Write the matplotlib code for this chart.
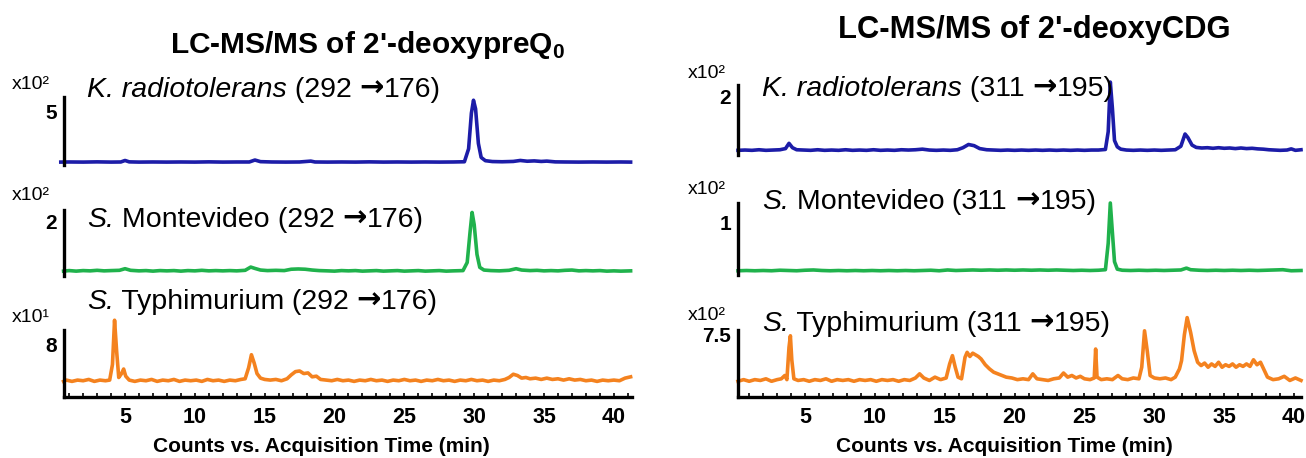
import matplotlib
matplotlib.use("Agg")
import matplotlib.pyplot as plt
from matplotlib.ticker import MultipleLocator
from matplotlib.offsetbox import TextArea, HPacker, AnnotationBbox

plt.rcParams['font.family'] = ['Liberation Sans', 'DejaVu Sans']
plt.rcParams['mathtext.fontset'] = 'custom'
plt.rcParams['mathtext.rm'] = 'Liberation Sans'
plt.rcParams['mathtext.bf'] = 'Liberation Sans:bold'

BLUE = "#1c1ca8"
GREEN = "#20b24c"
ORANGE = "#f4821f"

# ---- data: (time min, intensity) ----
# 2'-deoxypreQ0, K. radiotolerans (x10^2)
kr_preq = [(0.4, 0.27), (1, 0.28), (2, 0.27), (3, 0.29), (4, 0.27), (4.7, 0.28), (5.0, 0.42), (5.3, 0.29),
           (6, 0.27), (7, 0.28), (8, 0.27), (9, 0.28), (10, 0.27), (11, 0.29), (12, 0.27), (13, 0.28),
           (13.9, 0.28), (14.3, 0.46), (14.7, 0.31), (15.5, 0.28), (16.5, 0.27), (17.5, 0.28), (18.3, 0.36),
           (18.6, 0.28), (19.5, 0.27), (20.5, 0.28), (21.5, 0.27), (22.5, 0.29), (23.5, 0.27), (24.5, 0.28),
           (25.5, 0.27), (26.5, 0.28), (27.5, 0.27), (28.5, 0.28), (29.3, 0.3), (29.6, 1.5), (29.8, 4.8),
           (29.95, 6.0), (30.1, 5.2), (30.3, 2.0), (30.5, 0.7), (30.8, 0.4), (31.3, 0.32), (32, 0.3),
           (32.8, 0.33), (33.3, 0.42), (33.8, 0.35), (34.3, 0.38), (34.8, 0.33), (35.2, 0.36), (35.8, 0.29),
           (36.5, 0.28), (37.5, 0.27), (38.5, 0.28), (39.5, 0.27), (40.5, 0.28), (41.2, 0.27)]
# 2'-deoxypreQ0, S. Montevideo (x10^2)
sm_preq = [(0.6, 0.18), (1, 0.2), (1.5, 0.18), (2, 0.2), (2.5, 0.19), (3, 0.21), (3.5, 0.19), (4, 0.2),
           (4.6, 0.21), (5.0, 0.27), (5.4, 0.21), (6, 0.19), (6.5, 0.2), (7, 0.18), (7.5, 0.2), (8, 0.19),
           (8.5, 0.2), (9, 0.18), (9.5, 0.2), (10, 0.19), (10.5, 0.21), (11, 0.19), (11.5, 0.2), (12, 0.19),
           (12.5, 0.2), (13, 0.19), (13.6, 0.21), (14.0, 0.33), (14.3, 0.28), (14.7, 0.22), (15.2, 0.2),
           (15.8, 0.21), (16.4, 0.2), (16.9, 0.25), (17.4, 0.26), (17.9, 0.25), (18.4, 0.22), (18.9, 0.2),
           (19.5, 0.19), (20, 0.18), (20.5, 0.2), (21, 0.19), (21.5, 0.2), (22, 0.18), (22.5, 0.19),
           (23, 0.2), (23.5, 0.18), (24, 0.19), (24.5, 0.2), (25, 0.18), (25.5, 0.19), (26, 0.2), (26.5, 0.18),
           (27, 0.19), (27.5, 0.2), (28, 0.18), (28.5, 0.19), (29.2, 0.2), (29.5, 0.5), (29.7, 1.6),
           (29.85, 2.35), (30.0, 1.9), (30.2, 0.8), (30.4, 0.32), (30.7, 0.22), (31.2, 0.2), (31.8, 0.19),
           (32.5, 0.21), (33.0, 0.27), (33.4, 0.22), (34, 0.2), (34.5, 0.21), (35, 0.19), (35.5, 0.2),
           (36, 0.19), (36.5, 0.21), (37, 0.22), (37.5, 0.19), (38, 0.2), (38.5, 0.19), (39, 0.2),
           (39.5, 0.18), (40, 0.19), (40.5, 0.18), (41.2, 0.19)]
# 2'-deoxypreQ0, S. Typhimurium (x10^1)
st_preq = [(0.6, 2.4), (0.8, 2.6), (1.2, 2.4), (1.6, 2.6), (2.0, 2.5), (2.4, 2.7), (2.8, 2.4), (3.2, 2.6),
           (3.6, 2.5), (3.9, 2.6), (4.1, 5.0), (4.25, 11.8), (4.4, 7.0), (4.55, 3.0), (4.75, 3.6), (4.9, 4.3),
           (5.05, 3.2), (5.3, 2.6), (5.7, 2.4), (6.1, 2.6), (6.5, 2.5), (6.9, 2.7), (7.3, 2.4), (7.7, 2.6),
           (8.1, 2.5), (8.5, 2.7), (8.9, 2.4), (9.3, 2.6), (9.7, 2.5), (10.1, 2.6), (10.5, 2.4), (10.9, 2.7),
           (11.3, 2.5), (11.7, 2.6), (12.1, 2.4), (12.5, 2.6), (12.9, 2.5), (13.3, 2.7), (13.6, 2.8),
           (13.85, 4.5), (14.05, 6.5), (14.25, 5.2), (14.45, 3.6), (14.7, 2.9), (15.0, 2.7), (15.4, 2.6),
           (15.8, 2.7), (16.2, 2.5), (16.6, 2.8), (16.9, 3.4), (17.2, 3.9), (17.5, 4.0), (17.8, 3.6),
           (18.1, 3.7), (18.4, 3.1), (18.7, 3.2), (19.0, 2.7), (19.4, 2.6), (19.8, 2.5), (20.2, 2.7),
           (20.6, 2.5), (21.0, 2.6), (21.4, 2.4), (21.8, 2.6), (22.2, 2.5), (22.6, 2.7), (23.0, 2.5),
           (23.4, 2.6), (23.8, 2.4), (24.2, 2.6), (24.6, 2.5), (25.0, 2.7), (25.4, 2.5), (25.8, 2.6),
           (26.2, 2.4), (26.6, 2.6), (27.0, 2.5), (27.4, 2.7), (27.8, 2.5), (28.2, 2.6), (28.6, 2.4),
           (29.0, 2.6), (29.4, 2.5), (29.8, 2.7), (30.2, 2.5), (30.6, 2.6), (31.0, 2.4), (31.4, 2.6),
           (31.8, 2.5), (32.2, 2.7), (32.5, 3.0), (32.8, 3.5), (33.1, 3.3), (33.4, 2.9), (33.7, 3.0),
           (34.0, 2.8), (34.4, 2.9), (34.8, 2.7), (35.2, 2.9), (35.6, 2.7), (36.0, 2.8), (36.4, 2.6),
           (36.8, 2.8), (37.2, 2.6), (37.6, 2.7), (38.0, 2.5), (38.4, 2.6), (38.8, 2.4), (39.2, 2.6),
           (39.6, 2.5), (40.0, 2.6), (40.4, 2.5), (40.8, 2.9), (41.2, 3.1)]

# 2'-deoxyCDG, K. radiotolerans (x10^2)
kr_cdg = [(0.2, 0.16), (0.7, 0.17), (1.2, 0.16), (1.7, 0.18), (2.2, 0.16), (2.7, 0.17), (3.2, 0.18),
          (3.6, 0.22), (3.85, 0.4), (4.1, 0.25), (4.4, 0.18), (4.9, 0.17), (5.4, 0.16), (5.9, 0.18),
          (6.4, 0.16), (6.9, 0.17), (7.4, 0.16), (7.9, 0.18), (8.4, 0.16), (8.9, 0.17), (9.4, 0.16),
          (9.9, 0.18), (10.4, 0.16), (10.9, 0.17), (11.4, 0.16), (11.9, 0.18), (12.4, 0.17), (12.9, 0.18),
          (13.4, 0.2), (13.9, 0.17), (14.4, 0.16), (14.9, 0.17), (15.4, 0.16), (15.9, 0.18), (16.3, 0.25),
          (16.7, 0.36), (17.1, 0.32), (17.5, 0.22), (18.0, 0.18), (18.5, 0.17), (19.0, 0.16), (19.5, 0.17),
          (20.0, 0.16), (20.5, 0.17), (21.0, 0.16), (21.5, 0.17), (22.0, 0.16), (22.5, 0.17), (23.0, 0.16),
          (23.5, 0.17), (24.0, 0.16), (24.5, 0.17), (25.0, 0.16), (25.5, 0.17), (26.0, 0.17), (26.5, 0.19),
          (26.7, 0.8), (26.85, 2.5), (27.0, 1.6), (27.15, 0.5), (27.35, 0.28), (27.6, 0.2), (28.0, 0.17),
          (28.5, 0.16), (29.0, 0.17), (29.5, 0.16), (30.0, 0.17), (30.5, 0.16), (31.0, 0.17), (31.5, 0.18),
          (31.9, 0.3), (32.2, 0.72), (32.4, 0.6), (32.7, 0.34), (33.0, 0.26), (33.4, 0.24), (33.8, 0.25),
          (34.2, 0.23), (34.6, 0.25), (35.0, 0.23), (35.4, 0.24), (35.8, 0.22), (36.2, 0.24), (36.6, 0.22),
          (37.0, 0.23), (37.4, 0.21), (37.8, 0.2), (38.2, 0.18), (38.6, 0.17), (39.0, 0.16), (39.5, 0.17),
          (39.8, 0.21), (40.1, 0.16), (40.5, 0.18)]
# 2'-deoxyCDG, S. Montevideo (x10^2)
sm_cdg = [(0.2, 0.08), (0.8, 0.085), (1.4, 0.08), (2.0, 0.085), (2.6, 0.08), (3.2, 0.09), (3.8, 0.085),
          (4.4, 0.08), (5.0, 0.09), (5.6, 0.095), (6.2, 0.085), (6.8, 0.08), (7.4, 0.085), (8.0, 0.08),
          (8.6, 0.085), (9.2, 0.08), (9.8, 0.085), (10.4, 0.08), (11.0, 0.085), (11.6, 0.08), (12.2, 0.085),
          (12.8, 0.08), (13.4, 0.085), (14.0, 0.09), (14.6, 0.08), (15.2, 0.095), (15.8, 0.085),
          (16.4, 0.09), (17.0, 0.095), (17.6, 0.09), (18.2, 0.095), (18.8, 0.09), (19.4, 0.095),
          (20.0, 0.09), (20.6, 0.095), (21.2, 0.09), (21.8, 0.095), (22.4, 0.09), (23.0, 0.095),
          (23.6, 0.09), (24.2, 0.085), (24.8, 0.09), (25.4, 0.085), (26.0, 0.09), (26.5, 0.1),
          (26.7, 0.6), (26.85, 1.36), (27.0, 0.8), (27.15, 0.25), (27.35, 0.11), (27.7, 0.09),
          (28.3, 0.085), (28.9, 0.09), (29.5, 0.085), (30.1, 0.09), (30.7, 0.085), (31.3, 0.09),
          (31.9, 0.095), (32.3, 0.13), (32.6, 0.1), (33.2, 0.09), (33.8, 0.085), (34.4, 0.09),
          (35.0, 0.085), (35.6, 0.09), (36.2, 0.085), (36.8, 0.09), (37.4, 0.085), (38.0, 0.09),
          (38.6, 0.095), (39.2, 0.1), (39.8, 0.08), (40.5, 0.085)]
# 2'-deoxyCDG, S. Typhimurium (x10^2)
st_cdg = [(0.2, 1.9), (0.6, 2.1), (1.0, 1.9), (1.4, 2.1), (1.8, 2.0), (2.2, 2.2), (2.6, 1.9), (3.0, 2.1),
          (3.3, 2.2), (3.55, 2.6), (3.7, 2.1), (3.85, 6.0), (3.95, 7.4), (4.05, 4.5), (4.2, 2.2), (4.5, 2.0),
          (4.9, 2.1), (5.3, 1.9), (5.7, 2.1), (6.1, 2.0), (6.5, 2.2), (6.9, 1.9), (7.3, 2.1), (7.7, 2.0),
          (8.1, 2.1), (8.5, 1.9), (8.9, 2.1), (9.3, 2.0), (9.7, 2.1), (10.1, 1.9), (10.5, 2.1), (10.9, 2.0),
          (11.3, 2.1), (11.7, 1.9), (12.1, 2.1), (12.5, 2.0), (12.9, 2.3), (13.2, 2.8), (13.5, 2.3),
          (13.9, 2.0), (14.3, 2.4), (14.7, 2.1), (15.1, 2.3), (15.35, 4.0), (15.55, 5.0), (15.75, 3.6),
          (15.95, 2.4), (16.2, 2.2), (16.45, 4.8), (16.6, 5.4), (16.8, 4.9), (17.0, 5.3), (17.2, 5.1),
          (17.4, 4.9), (17.6, 4.6), (17.9, 3.9), (18.2, 3.4), (18.5, 3.0), (18.8, 2.8), (19.1, 2.6),
          (19.4, 2.4), (19.8, 2.3), (20.2, 2.1), (20.6, 2.2), (21.0, 2.1), (21.3, 2.8), (21.6, 2.2),
          (22.0, 2.1), (22.4, 2.0), (22.8, 2.2), (23.2, 2.3), (23.5, 2.9), (23.8, 2.4), (24.1, 2.6),
          (24.4, 2.3), (24.7, 2.5), (25.0, 2.2), (25.4, 2.1), (25.7, 2.3), (25.8, 5.8), (25.9, 2.4),
          (26.2, 2.1), (26.6, 2.2), (27.0, 2.1), (27.4, 2.6), (27.7, 2.2), (28.1, 2.1), (28.5, 2.3),
          (28.9, 2.2), (29.1, 3.6), (29.3, 8.0), (29.5, 5.5), (29.7, 2.6), (30.0, 2.3), (30.4, 2.2),
          (30.8, 2.3), (31.2, 2.1), (31.5, 2.4), (31.8, 3.4), (31.95, 4.4), (32.15, 7.5), (32.35, 9.6),
          (32.6, 7.8), (32.85, 5.6), (33.1, 4.2), (33.35, 3.8), (33.6, 4.1), (33.85, 3.6), (34.1, 4.0),
          (34.35, 3.7), (34.6, 4.2), (34.85, 3.6), (35.1, 3.9), (35.35, 3.7), (35.6, 4.0), (35.85, 3.6),
          (36.1, 3.9), (36.35, 3.7), (36.6, 4.0), (36.85, 3.7), (37.1, 4.5), (37.35, 3.9), (37.6, 4.2),
          (37.85, 3.3), (38.1, 2.4), (38.5, 2.1), (38.9, 2.2), (39.3, 2.5), (39.7, 2.0), (40.1, 2.3),
          (40.5, 2.0)]

# label pieces: (italic part, upright part)
left_species = [("K. radiotolerans", ""), ("S.", " Montevideo"), ("S.", " Typhimurium")]
right_species = [("K. radiotolerans", ""), ("S.", " Montevideo"), ("S.", " Typhimurium")]
left_mrm = ("292", "176")
right_mrm = ("311", "195")
left_scale = ["x10\u00b2", "x10\u00b2", "x10\u00b9"]
right_scale = ["x10\u00b2", "x10\u00b2", "x10\u00b2"]
left_ticks = [5, 2, 8]
right_ticks = [2, 1, 7.5]
left_tick_labels = ["5", "2", "8"]
right_tick_labels = ["2", "1", "7.5"]
left_ylim = [6.3, 2.44, 10.3]
right_ylim = [2.4, 1.36, 8.1]

W, H = 1306, 458
fig = plt.figure(figsize=(W / 100, H / 100), dpi=100)
LABEL_FS = 20.5


def box(x0, x1, ytop, ybot):
    return [x0 / W, 1 - ybot / H, (x1 - x0) / W, (ybot - ytop) / H]


def fx(x):
    return x / W


def fy(y):
    return 1 - y / H


def panel(rect, data, color, ytick, ytl, ymax, xlim, bottom):
    ax = fig.add_axes(rect)
    t = [p[0] for p in data]
    v = [p[1] for p in data]
    ax.plot(t, v, color=color, lw=2.6, solid_joinstyle='round', clip_on=False)
    ax.set_xlim(xlim)
    ax.set_ylim(0, ymax)
    for s in ['top', 'right']:
        ax.spines[s].set_visible(False)
    ax.spines['left'].set_linewidth(2.4)
    ax.set_yticks([ytick])
    ax.set_yticklabels([ytl], fontsize=15, fontweight='bold')
    ax.tick_params(axis='y', length=0, pad=5)
    if bottom:
        ax.spines['bottom'].set_linewidth(2.4)
        ax.xaxis.set_minor_locator(MultipleLocator(1))
        ax.set_xticks([5, 10, 15, 20, 25, 30, 35, 40])
        ax.tick_params(axis='x', which='both', direction='in', length=3, width=1.2, pad=7, labelsize=15.5)
        for lb in ax.get_xticklabels():
            lb.set_fontweight('bold')
    else:
        ax.spines['bottom'].set_visible(False)
        ax.set_xticks([])
    ax.set_facecolor('none')
    return ax


def species_label(x, y, italic, upright, mrm):
    parts = [TextArea(italic, textprops=dict(fontsize=LABEL_FS, style='italic'))]
    if upright:
        parts.append(TextArea(upright, textprops=dict(fontsize=LABEL_FS)))
    parts.append(TextArea(" (" + mrm[0] + " ", textprops=dict(fontsize=LABEL_FS)))
    parts.append(TextArea("\u2192", textprops=dict(fontsize=LABEL_FS + 0.5, family='DejaVu Sans',
                                                    fontweight='bold')))
    parts.append(TextArea(mrm[1] + ")", textprops=dict(fontsize=LABEL_FS)))
    pack = HPacker(children=parts, align='baseline', pad=0, sep=0)
    ab = AnnotationBbox(pack, (fx(x), fy(y)), xycoords='figure fraction', box_alignment=(0, 0.5),
                        frameon=False, pad=0)
    fig.add_artist(ab)


left_data = [kr_preq, sm_preq, st_preq]
right_data = [kr_cdg, sm_cdg, st_cdg]
colors = [BLUE, GREEN, ORANGE]

left_rows = [(97, 165), (210, 276), (330, 397)]
right_rows = [(85, 155), (203, 275), (330, 397)]
left_scale_y = [85, 196, 318]
right_scale_y = [74, 190, 316]
left_label_y = [89, 219, 301]
right_label_y = [88, 201, 323]

for i in range(3):
    panel(box(64, 632, *left_rows[i]), left_data[i], colors[i], left_ticks[i], left_tick_labels[i],
          left_ylim[i], (0.63, 41.3), i == 2)
    panel(box(738, 1301, *right_rows[i]), right_data[i], colors[i], right_ticks[i], right_tick_labels[i],
          right_ylim[i], (0.2, 40.5), i == 2)
    fig.text(fx(31), fy(left_scale_y[i]), left_scale[i], fontsize=14, ha='center', va='center')
    fig.text(fx(707), fy(right_scale_y[i]), right_scale[i], fontsize=14, ha='center', va='center')
    species_label(87, left_label_y[i], left_species[i][0], left_species[i][1], left_mrm)
    species_label(762, right_label_y[i], right_species[i][0], right_species[i][1], right_mrm)

fig.text(fx(321), fy(446), "Counts vs. Acquisition Time (min)", fontsize=15, fontweight='bold',
         ha='center', va='center')
fig.text(fx(1004), fy(446), "Counts vs. Acquisition Time (min)", fontsize=15, fontweight='bold',
         ha='center', va='center')

fig.text(fx(368), fy(45), "LC-MS/MS of 2'-deoxypreQ$_\\mathbf{0}$", fontsize=21.5, fontweight='bold',
         ha='center', va='center')
fig.text(fx(1034), fy(30), "LC-MS/MS of 2'-deoxyCDG", fontsize=22.2, fontweight='bold',
         ha='center', va='center')

fig.savefig("out.png", dpi=100)
